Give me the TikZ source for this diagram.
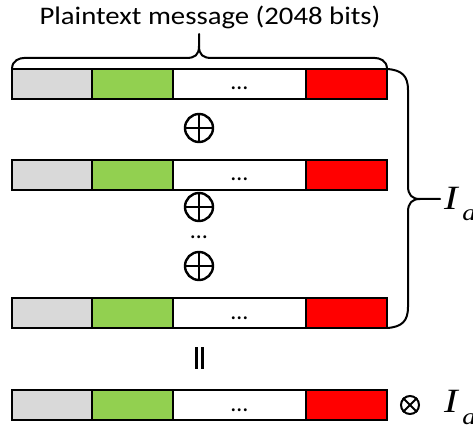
\documentclass[tikz,border=0pt]{standalone}
\usepackage{fontspec}
\setmainfont{Carlito}
\newfontfamily\tms{Liberation Serif}
\begin{document}
\begin{tikzpicture}[x=1pt,y=-1pt,
  seg/.style={draw=black, line width=1.4pt, minimum height=30pt, inner sep=0pt, outer sep=0pt, anchor=north west},
  brace/.style={draw=black, line width=2pt, line cap=round, line join=round},
  opx/.style={circle, draw=black, line width=2.4pt, minimum size=28pt, inner sep=0pt},
  otx/.style={circle, draw=black, line width=2pt, minimum size=18pt, inner sep=0pt},
  dots/.style={font=\fontsize{24}{24}\selectfont, inner sep=0pt},
  lbl/.style={anchor=base west, inner sep=0pt},
  msgbar/.pic={
    \node[seg, fill=gcol, minimum width=80pt] (-g) at (0,0) {};
    \node[seg, fill=lcol, minimum width=81pt] (-l) at (80,0) {};
    \node[seg, fill=white, minimum width=133pt] (-w) at (161,0) {};
    \node[seg, fill=rcol, minimum width=81pt] (-r) at (294,0) {};
    \node[dots, anchor=base] (-d) at (227.5,21) {…};
  }]
\definecolor{gcol}{HTML}{D9D9D9}
\definecolor{lcol}{HTML}{92D050}
\definecolor{rcol}{HTML}{FF0000}
\useasboundingbox (0,0) rectangle (473,430);
\clip (0,0) rectangle (473,430);

% title above the brace
\node[inner sep=0pt, anchor=base] (title) at (210,25)
  {\scalebox{1.25}[1.1]{\fontsize{23}{23}\selectfont Plaintext message (2048 bits)}};

% message blocks
\pic (b1) at (12,69) {msgbar};
\pic (b2) at (12,160) {msgbar};
\pic (b3) at (12,298) {msgbar};
\pic (b4) at (12,390) {msgbar};

% XOR operators
\node[opx] (x1) at (199,128) {};
\node[opx] (x2) at (199,207) {};
\node[dots, anchor=base] (vd) at (199,238) {…};
\node[opx] (x3) at (199,266) {};
\foreach \n in {x1,x2,x3}{
  \draw[line width=2.4pt] (\n.north) -- (\n.south) (\n.west) -- (\n.east);
}

% equality sign (vertical)
\coordinate (eqa) at (196,347);
\coordinate (eqb) at (196,369);
\coordinate (eqc) at (202,347);
\coordinate (eqd) at (202,369);
\draw[line width=3pt] (eqa) -- (eqb) (eqc) -- (eqd);

% top brace over the first block
\draw[brace] (b1-g.north west) .. controls ++(0,-9) and ++(-4,0) .. ++(12,-11)
  -- (186,58) .. controls (195,58) and (199,55) .. (199,46) -- (199,34);
\draw[brace] (b1-r.north east) .. controls ++(0,-9) and ++(4,0) .. ++(-12,-11)
  -- (212,58) .. controls (203,58) and (199,55) .. (199,46);

% right brace grouping the XOR operands
\coordinate (tip) at (440,199);
\draw[brace] (b1-r.north east) .. controls (402,70) and (408,76) .. (408,90)
  -- (408,186) .. controls (408,195) and (412,199) .. (420,199) -- (tip);
\draw[brace] (b3-r.south east) .. controls (402,327) and (408,321) .. (408,307)
  -- (408,212) .. controls (408,203) and (412,199) .. (420,199);
\node[lbl] (ia1) at (444,209)
  {\scalebox{1.2}[1]{\tms\itshape\fontsize{34}{34}\selectfont I\raisebox{-11pt}{\fontsize{23}{23}\selectfont\,a}}};

% result times I_a
\node[otx] (ot) at (410,405) {};
\draw[line width=2pt] (ot.north west) -- (ot.south east) (ot.north east) -- (ot.south west);
\node[lbl] (ia2) at (444,412)
  {\scalebox{1.2}[1]{\tms\itshape\fontsize{34}{34}\selectfont I\raisebox{-12pt}{\fontsize{23}{23}\selectfont\,a}}};
\end{tikzpicture}
\end{document}
